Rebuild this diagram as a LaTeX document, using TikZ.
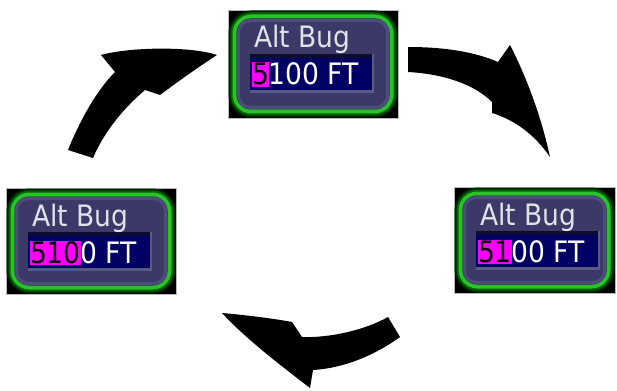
\documentclass[tikz,border=0pt]{standalone}
\usepackage{fontspec}
\setmainfont{DejaVu Sans Condensed}
\definecolor{slate}{RGB}{58,57,104}
\definecolor{slateedge}{RGB}{78,77,122}
\definecolor{navyfield}{RGB}{0,0,100}
\definecolor{navyshadow}{RGB}{12,12,48}
\definecolor{bevel}{RGB}{90,89,134}
\definecolor{glowA}{RGB}{0,40,0}
\definecolor{glowB}{RGB}{0,100,0}
\definecolor{gline}{RGB}{40,195,40}
\definecolor{labelgray}{RGB}{225,225,232}
\definecolor{hlmag}{RGB}{255,0,255}
\tikzset{
  panel/.style={fill=black, draw=gray!55, line width=0.8pt, inner sep=0pt, outer sep=0pt},
  bigtext/.style={font=\fontsize{29.5}{32}\selectfont, inner sep=0pt, outer sep=0pt},
  lbl/.style={bigtext, text=labelgray},
  hlbox/.style={bigtext, fill=hlmag, text=black, text height=22.5pt, text depth=2pt},
  numtxt/.style={bigtext, text=white},
  blockarrow/.style={fill=black, draw=none},
}
% name, x, y, highlighted, rest, width, height
\newcommand\altbug[7]{%
\begin{scope}[shift={(#2,#3)}]
  \node[panel, anchor=north west, minimum width=#6, minimum height=#7] (#1) at (0,0) {};
  \draw[line width=12pt, glowA, rounded corners=17pt] (6.5,6.5) rectangle ({#6-6.5},{#7-6.5});
  \draw[line width=8pt, glowB, rounded corners=17pt] (6.5,6.5) rectangle ({#6-6.5},{#7-6.5});
  \draw[line width=4pt, gline, rounded corners=17pt] (6.5,6.5) rectangle ({#6-6.5},{#7-6.5});
  \fill[slate, rounded corners=14pt] (8.5,8.5) rectangle ({#6-8.5},{#7-8.5});
  \draw[slateedge, line width=3pt, rounded corners=12pt] (10.5,10.5) rectangle ({#6-10.5},{#7-10.5});
  \fill[navyfield] (22,44) rectangle (144,80);
  \fill[navyshadow] (22,44) rectangle (144,48);
  \fill[bevel] (22,80) rectangle (146,83);
  \fill[bevel] (144,44) rectangle (146,83);
  \node[lbl, anchor=base west] (#1-t) at (26,38) {Alt Bug};
  \node[hlbox, anchor=base west] (#1-h) at (24,75) {#4};
  \node[numtxt, anchor=base west] (#1-n) at (#1-h.base east) {#5};
\end{scope}}
\begin{document}
\begin{tikzpicture}[x=1pt, y=-1pt]
  \useasboundingbox (0,0) rectangle (617,390);
  \fill[white] (0,0) rectangle (617,390);

  \altbug{topbox}{228}{10}{5}{100 FT}{170}{108}
  \altbug{leftbox}{6}{188}{510}{0 FT}{170}{106}
  \altbug{rightbox}{454}{187}{51}{00 FT}{161}{106}

  % arrow from left box to top box
  \fill[blockarrow] (68,150) .. controls (78,125) and (95,92) .. (115,72)
     -- (101,55) .. controls (130,47) and (190,46) .. (217,55)
     .. controls (200,66) and (180,80) .. (160,95)
     -- (145,90) .. controls (125,107) and (105,130) .. (93,158) -- cycle;
  % arrow from top box to right box
  \fill[blockarrow] (408,47) .. controls (445,47) and (475,52) .. (498,62)
     -- (510,45) .. controls (528,80) and (542,120) .. (550,157)
     .. controls (535,135) and (515,120) .. (492,113)
     -- (492,102) .. controls (475,85) and (445,74) .. (408,72) -- cycle;
  % arrow from right box to bottom/left
  \fill[blockarrow] (222,313) .. controls (245,315) and (270,318) .. (292,322)
     -- (302,337) .. controls (330,338) and (365,330) .. (388,317)
     -- (400,337) .. controls (375,355) and (345,368) .. (313,370)
     -- (310,388) .. controls (280,365) and (245,338) .. (222,313) -- cycle;
\end{tikzpicture}
\end{document}
